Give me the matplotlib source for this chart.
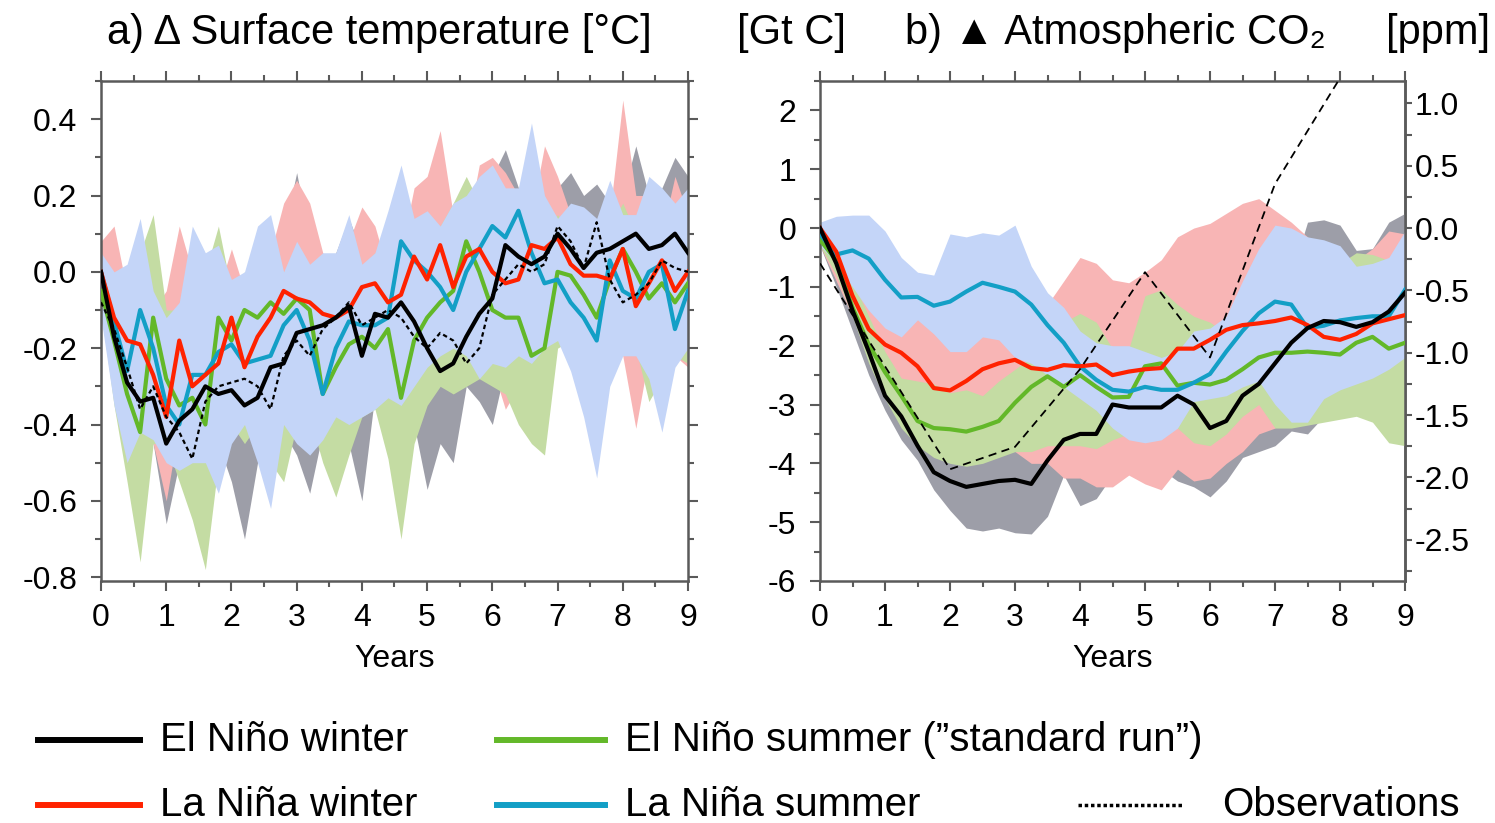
"""
ENSO-start experiments: surface temperature and atmospheric CO2 response
Two panels: a) global surface temperature anomaly, b) atmospheric CO2 anomaly
(left axis Gt C, right axis ppm), ensemble means with min/max ranges.
"""

import numpy as np
import matplotlib.pyplot as plt
from matplotlib.lines import Line2D
from matplotlib.ticker import MultipleLocator, FixedLocator, FormatStrFormatter

plt.rcParams['font.family'] = ['Liberation Sans Narrow', 'Liberation Sans', 'DejaVu Sans']
plt.rcParams['axes.unicode_minus'] = False

# ---------------------------------------------------------------
# Panel a: surface temperature anomaly [deg C], every 0.2 years
# ---------------------------------------------------------------
years_a = np.linspace(0, 9, 46)

temp_en_winter = [0.0, -0.17, -0.29, -0.34, -0.33, -0.45, -0.39, -0.36, -0.30, -0.32,
                  -0.31, -0.35, -0.33, -0.25, -0.24, -0.16, -0.15, -0.14, -0.12, -0.09,
                  -0.22, -0.11, -0.12, -0.08, -0.13, -0.20, -0.26, -0.24, -0.17, -0.11,
                  -0.07, 0.07, 0.04, 0.02, 0.04, 0.10, 0.06, 0.01, 0.05, 0.06,
                  0.08, 0.10, 0.06, 0.07, 0.10, 0.05]
temp_ln_winter = [0.0, -0.12, -0.18, -0.19, -0.27, -0.38, -0.18, -0.30, -0.27, -0.24,
                  -0.12, -0.25, -0.17, -0.12, -0.05, -0.07, -0.08, -0.11, -0.12, -0.10,
                  -0.04, -0.03, -0.08, -0.06, 0.04, -0.02, 0.07, -0.04, 0.04, 0.06,
                  0.0, -0.03, -0.02, 0.07, 0.06, 0.09, 0.02, -0.01, -0.01, -0.02,
                  0.06, -0.09, -0.03, 0.03, -0.05, 0.0]
temp_en_summer = [-0.05, -0.18, -0.32, -0.42, -0.12, -0.28, -0.35, -0.33, -0.40, -0.12,
                  -0.18, -0.10, -0.12, -0.08, -0.11, -0.07, -0.10, -0.32, -0.25, -0.19,
                  -0.17, -0.20, -0.15, -0.33, -0.18, -0.12, -0.08, -0.05, 0.08, 0.0,
                  -0.10, -0.12, -0.12, -0.22, -0.20, 0.0, -0.01, -0.06, -0.12, -0.02,
                  0.06, 0.0, -0.07, -0.03, -0.08, -0.03]
temp_ln_summer = [0.0, -0.13, -0.26, -0.10, -0.20, -0.35, -0.40, -0.27, -0.27, -0.21,
                  -0.19, -0.24, -0.23, -0.22, -0.14, -0.10, -0.18, -0.32, -0.20, -0.13,
                  -0.14, -0.14, -0.12, 0.08, 0.03, 0.0, -0.04, -0.10, 0.0, 0.06,
                  0.12, 0.09, 0.16, 0.05, -0.03, -0.02, -0.08, -0.12, -0.18, 0.03,
                  -0.05, -0.07, 0.0, 0.02, -0.15, -0.05]
temp_obs = [-0.08, -0.15, -0.25, -0.36, -0.30, -0.38, -0.42, -0.49, -0.34, -0.30,
            -0.29, -0.28, -0.30, -0.36, -0.22, -0.18, -0.22, -0.15, -0.12, -0.08,
            -0.14, -0.12, -0.10, -0.12, -0.17, -0.20, -0.16, -0.18, -0.24, -0.20,
            -0.06, -0.02, 0.02, 0.0, 0.02, 0.12, 0.08, 0.01, 0.13, -0.02,
            -0.08, -0.06, -0.03, 0.03, 0.01, 0.0]

# ensemble ranges (min / max)
temp_en_winter_hi = [0.0, -0.05, -0.10, -0.10, -0.15, -0.20, -0.20, -0.15, -0.12, -0.15,
                     -0.10, -0.10, -0.05, 0.0, 0.10, 0.26, 0.08, 0.0, 0.05, 0.14,
                     0.05, 0.05, 0.05, 0.08, 0.10, 0.12, 0.15, 0.12, 0.15, 0.20,
                     0.25, 0.32, 0.22, 0.15, 0.18, 0.22, 0.26, 0.20, 0.23, 0.18,
                     0.20, 0.33, 0.20, 0.22, 0.30, 0.25]
temp_en_winter_lo = [-0.10, -0.30, -0.40, -0.45, -0.45, -0.66, -0.50, -0.45, -0.45, -0.45,
                     -0.55, -0.70, -0.50, -0.45, -0.42, -0.48, -0.58, -0.42, -0.38, -0.45,
                     -0.60, -0.32, -0.35, -0.30, -0.40, -0.57, -0.45, -0.50, -0.30, -0.34,
                     -0.40, -0.25, -0.20, -0.15, -0.10, -0.12, -0.12, -0.10, -0.10, -0.08,
                     -0.08, -0.10, -0.08, -0.10, -0.08, -0.10]
temp_ln_winter_hi = [0.08, 0.12, -0.05, 0.0, -0.10, -0.05, 0.12, 0.0, -0.05, -0.05,
                     0.06, -0.05, 0.0, 0.05, 0.18, 0.24, 0.18, 0.05, 0.0, 0.08,
                     0.17, 0.12, 0.0, 0.05, 0.22, 0.25, 0.37, 0.15, 0.10, 0.28,
                     0.30, 0.26, 0.20, 0.15, 0.33, 0.25, 0.15, 0.12, 0.10, 0.15,
                     0.45, 0.20, 0.20, 0.10, 0.25, 0.15]
temp_ln_winter_lo = [-0.12, -0.30, -0.35, -0.35, -0.45, -0.60, -0.40, -0.45, -0.40, -0.42,
                     -0.44, -0.38, -0.36, -0.32, -0.30, -0.28, -0.30, -0.30, -0.30, -0.28,
                     -0.22, -0.20, -0.22, -0.25, -0.20, -0.22, -0.18, -0.18, -0.15, -0.20,
                     -0.25, -0.36, -0.30, -0.20, -0.18, -0.15, -0.12, -0.15, -0.18, -0.20,
                     -0.22, -0.41, -0.22, -0.18, -0.22, -0.25]
temp_en_summer_hi = [0.0, -0.05, -0.05, 0.05, 0.15, -0.10, -0.10, -0.10, 0.0, 0.12,
                     -0.05, 0.0, 0.0, 0.05, 0.0, 0.02, 0.0, 0.0, 0.0, 0.02,
                     0.0, 0.05, 0.05, 0.10, 0.10, 0.05, 0.12, 0.18, 0.25, 0.18,
                     0.10, 0.12, 0.10, 0.10, 0.10, 0.15, 0.10, 0.10, 0.05, 0.12,
                     0.18, 0.10, 0.12, 0.22, 0.10, 0.12]
temp_en_summer_lo = [-0.10, -0.35, -0.55, -0.76, -0.45, -0.45, -0.55, -0.65, -0.78, -0.50,
                     -0.40, -0.45, -0.40, -0.50, -0.55, -0.40, -0.38, -0.50, -0.59, -0.48,
                     -0.38, -0.36, -0.49, -0.70, -0.45, -0.35, -0.30, -0.32, -0.30, -0.28,
                     -0.30, -0.32, -0.40, -0.45, -0.48, -0.20, -0.18, -0.20, -0.25, -0.19,
                     -0.15, -0.20, -0.34, -0.28, -0.22, -0.24]
temp_ln_summer_hi = [0.05, 0.0, 0.02, 0.14, -0.05, -0.12, -0.08, 0.12, 0.05, 0.07,
                     -0.02, 0.0, 0.12, 0.15, 0.0, 0.08, 0.02, 0.05, 0.05, 0.15,
                     0.02, 0.05, 0.16, 0.28, 0.14, 0.16, 0.12, 0.18, 0.20, 0.25,
                     0.28, 0.22, 0.22, 0.39, 0.20, 0.14, 0.18, 0.17, 0.14, 0.24,
                     0.15, 0.15, 0.25, 0.22, 0.18, 0.22]
temp_ln_summer_lo = [-0.12, -0.35, -0.50, -0.42, -0.44, -0.50, -0.52, -0.50, -0.50, -0.58,
                     -0.45, -0.40, -0.50, -0.62, -0.40, -0.45, -0.48, -0.44, -0.38, -0.40,
                     -0.38, -0.36, -0.33, -0.35, -0.30, -0.25, -0.22, -0.20, -0.22, -0.28,
                     -0.24, -0.25, -0.22, -0.24, -0.20, -0.18, -0.26, -0.38, -0.54, -0.30,
                     -0.22, -0.22, -0.28, -0.42, -0.25, -0.20]

# ---------------------------------------------------------------
# Panel b: atmospheric CO2 anomaly [Gt C], every 0.25 years
# ---------------------------------------------------------------
years_b = np.linspace(0, 9, 37)

co2_en_winter = [0.0, -0.6, -1.4, -2.1, -2.85, -3.2, -3.7, -4.15, -4.3, -4.4,
                 -4.35, -4.3, -4.28, -4.35, -3.95, -3.6, -3.5, -3.5, -3.0, -3.05,
                 -3.05, -3.05, -2.85, -3.0, -3.4, -3.28, -2.85, -2.65, -2.3, -1.95,
                 -1.7, -1.58, -1.6, -1.68, -1.6, -1.42, -1.1]
co2_ln_winter = [0.0, -0.4, -1.15, -1.72, -1.98, -2.12, -2.35, -2.72, -2.76, -2.6,
                 -2.4, -2.3, -2.24, -2.38, -2.41, -2.33, -2.35, -2.32, -2.5, -2.44,
                 -2.4, -2.38, -2.05, -2.05, -1.9, -1.73, -1.65, -1.62, -1.58, -1.52,
                 -1.65, -1.85, -1.9, -1.8, -1.62, -1.55, -1.48]
co2_en_summer = [-0.2, -0.55, -1.35, -1.98, -2.45, -2.85, -3.28, -3.4, -3.42, -3.46,
                 -3.38, -3.28, -2.97, -2.7, -2.52, -2.7, -2.5, -2.7, -2.88, -2.87,
                 -2.35, -2.3, -2.68, -2.63, -2.66, -2.58, -2.4, -2.2, -2.12, -2.12,
                 -2.1, -2.12, -2.15, -1.95, -1.85, -2.05, -1.95]
co2_ln_summer = [-0.1, -0.45, -0.38, -0.52, -0.88, -1.18, -1.17, -1.32, -1.25, -1.08,
                 -0.93, -1.0, -1.08, -1.3, -1.65, -1.95, -2.35, -2.58, -2.75, -2.78,
                 -2.7, -2.75, -2.75, -2.63, -2.48, -2.1, -1.75, -1.45, -1.25, -1.3,
                 -1.7, -1.66, -1.57, -1.53, -1.5, -1.5, -1.05]

# observed (annual)
obs_years_b = [0, 1, 2, 3, 4, 5, 6, 7, 8]
co2_obs = [-0.6, -2.35, -4.1, -3.72, -2.4, -0.75, -2.2, 0.75, 2.55]

co2_en_winter_hi = [0.0, -0.4, -1.0, -1.6, -2.2, -2.6, -3.0, -3.3, -3.5, -3.6,
                    -3.5, -3.5, -3.4, -3.5, -3.2, -3.0, -2.9, -2.8, -2.6, -2.5,
                    -2.5, -2.5, -2.3, -2.4, -2.6, -2.4, -2.0, -1.7, -1.3, -0.8,
                    0.1, 0.14, 0.05, -0.38, -0.35, 0.1, 0.25]
co2_en_winter_lo = [-0.3, -1.0, -1.75, -2.5, -3.1, -3.6, -3.95, -4.45, -4.8, -5.1,
                    -5.15, -5.1, -5.18, -5.2, -4.9, -4.2, -4.72, -4.6, -4.2, -4.0,
                    -4.0, -4.1, -4.3, -4.4, -4.57, -4.3, -3.9, -3.8, -3.7, -3.45,
                    -3.5, -3.2, -3.1, -3.0, -3.0, -3.0, -3.0]
co2_ln_winter_hi = [0.0, -0.3, -0.8, -1.3, -1.6, -1.6, -1.45, -1.7, -2.0, -2.0,
                    -1.75, -1.8, -2.1, -2.0, -1.3, -0.9, -0.5, -0.6, -0.88, -0.93,
                    -0.75, -0.54, -0.15, 0.0, 0.08, 0.25, 0.42, 0.5, 0.3, 0.1,
                    -0.15, -0.35, -0.5, -0.55, -0.35, -0.05, -0.1]
co2_ln_winter_lo = [-0.3, -0.9, -1.5, -2.1, -2.5, -2.9, -3.2, -3.4, -3.5, -3.6,
                    -3.6, -3.7, -3.8, -4.0, -4.0, -4.25, -4.25, -4.4, -4.4, -4.2,
                    -4.35, -4.45, -4.1, -4.3, -4.25, -4.0, -3.8, -3.5, -3.4, -3.1,
                    -3.0, -2.9, -2.8, -2.7, -2.7, -2.6, -2.5]
co2_en_summer_hi = [-0.1, -0.35, -0.9, -1.5, -2.1, -2.55, -2.6, -2.65, -2.8, -2.75,
                    -2.85, -2.6, -2.4, -2.2, -1.8, -1.6, -1.45, -1.6, -2.05, -2.05,
                    -1.15, -1.05, -1.3, -1.5, -1.6, -1.8, -1.5, -1.2, -1.0, -0.9,
                    -0.85, -0.8, -0.6, -0.42, -0.45, -0.55, -0.5]
co2_en_summer_lo = [-0.3, -0.8, -1.5, -2.3, -2.9, -3.4, -3.7, -3.9, -4.0, -4.05,
                    -4.0, -3.9, -3.8, -3.8, -3.7, -3.7, -3.7, -3.75, -3.6, -3.5,
                    -3.4, -3.3, -3.4, -3.65, -3.7, -3.5, -3.2, -3.0, -3.4, -3.4,
                    -3.35, -3.3, -3.25, -3.2, -3.3, -3.65, -3.7]
co2_ln_summer_hi = [0.1, 0.2, 0.22, 0.22, -0.05, -0.5, -0.75, -0.8, -0.1, -0.15,
                    -0.08, -0.12, 0.05, -0.65, -1.1, -1.35, -1.75, -1.95, -2.0, -2.0,
                    -2.1, -2.2, -2.1, -1.75, -1.7, -1.5, -0.9, -0.35, 0.05, 0.0,
                    -0.15, -0.2, -0.3, -0.65, -0.6, -0.5, -0.05]
co2_ln_summer_lo = [-0.3, -0.6, -1.0, -1.4, -1.7, -1.85, -1.56, -1.8, -2.1, -2.1,
                    -1.85, -1.9, -2.2, -2.3, -2.5, -2.7, -2.9, -3.1, -3.4, -3.6,
                    -3.65, -3.6, -3.4, -2.95, -2.9, -2.85, -2.7, -2.6, -3.0, -3.3,
                    -3.3, -2.9, -2.75, -2.65, -2.55, -2.4, -2.2]

GTC_PER_PPM = 2.12
ppm_ticks = [-2.5, -2.0, -1.5, -1.0, -0.5, 0.0, 0.5, 1.0]
ppm_minor = [-2.75, -2.25, -1.75, -1.25, -0.75, -0.25, 0.25, 0.75]

# colours
c_en_w, c_ln_w = "black", "#ff2200"
c_en_s, c_ln_s = "#63b829", "#139fc6"
f_en_w, f_ln_w = "#9d9ea8", "#f8b5b5"
f_en_s, f_ln_s = "#c4dca3", "#c4d5f8"
spine_col = "#5a5a5a"

head_font = ['Liberation Sans', 'DejaVu Sans']

# figure in pixel units
W, H = 1495, 823
fig = plt.figure(figsize=(W / 100, H / 100), dpi=100)


def box(left, top, right, bottom):
    return [left / W, 1 - bottom / H, (right - left) / W, (bottom - top) / H]


ax_a = fig.add_axes(box(101, 81, 688, 581))
ax_b = fig.add_axes(box(820, 81, 1405, 581))


def draw_panel(ax, x, bands, lines):
    # ranges first (grey, pink, green, blue on top), then the means
    for lo, hi, col in bands:
        ax.fill_between(x, lo, hi, color=col, lw=0, zorder=1)
    for y, col in lines:
        ax.plot(x, y, color=col, lw=3.0, zorder=3)


draw_panel(ax_a, years_a,
           [(temp_en_winter_lo, temp_en_winter_hi, f_en_w),
            (temp_ln_winter_lo, temp_ln_winter_hi, f_ln_w),
            (temp_en_summer_lo, temp_en_summer_hi, f_en_s),
            (temp_ln_summer_lo, temp_ln_summer_hi, f_ln_s)],
           [(temp_en_summer, c_en_s), (temp_ln_summer, c_ln_s),
            (temp_ln_winter, c_ln_w), (temp_en_winter, c_en_w)])
ax_a.plot(years_a, temp_obs, color="black", lw=1.6, ls=(0, (2, 1.5)), zorder=4)

draw_panel(ax_b, years_b,
           [(co2_en_winter_lo, co2_en_winter_hi, f_en_w),
            (co2_ln_winter_lo, co2_ln_winter_hi, f_ln_w),
            (co2_en_summer_lo, co2_en_summer_hi, f_en_s),
            (co2_ln_summer_lo, co2_ln_summer_hi, f_ln_s)],
           [(co2_en_summer, c_en_s), (co2_ln_summer, c_ln_s),
            (co2_ln_winter, c_ln_w), (co2_en_winter, c_en_w)])
ax_b.plot(obs_years_b, co2_obs, color="black", lw=1.3, ls=(0, (4.5, 3)), zorder=4)

# axes limits and ticks
ax_a.set_xlim(0, 9)
ax_a.set_ylim(-0.81, 0.5)
ax_a.yaxis.set_major_locator(MultipleLocator(0.2))
ax_a.yaxis.set_minor_locator(MultipleLocator(0.1))
ax_a.yaxis.set_major_formatter(FormatStrFormatter('%.1f'))

ax_b.set_xlim(0, 9)
ax_b.set_ylim(-6, 2.5)
ax_b.yaxis.set_major_locator(MultipleLocator(1))
ax_b.yaxis.set_minor_locator(MultipleLocator(0.5))

for ax in (ax_a, ax_b):
    ax.xaxis.set_major_locator(MultipleLocator(1))
    ax.xaxis.set_minor_locator(MultipleLocator(0.5))
    for sp in ax.spines.values():
        sp.set_color(spine_col)
        sp.set_linewidth(1.8)
    ax.tick_params(which='both', direction='out', top=True, color=spine_col,
                   width=1.5, labelsize=23)
    ax.tick_params(which='major', length=7)
    ax.tick_params(which='minor', length=4)
    ax.tick_params(axis='x', pad=9)
    ax.tick_params(axis='y', pad=10)
    ax.set_xlabel("Years", fontsize=23, labelpad=8)

ax_a.tick_params(which='both', right=True)

# ppm scale on the right of panel b
sec = ax_b.secondary_yaxis('right', functions=(lambda g: g / GTC_PER_PPM,
                                               lambda p: p * GTC_PER_PPM))
sec.yaxis.set_major_locator(FixedLocator(ppm_ticks))
sec.yaxis.set_minor_locator(FixedLocator(ppm_minor))
sec.yaxis.set_major_formatter(FormatStrFormatter('%.1f'))
sec.tick_params(which='both', direction='out', color=spine_col, width=1.5,
                length=5, labelsize=23, pad=2)
sec.spines['right'].set_color(spine_col)
sec.spines['right'].set_linewidth(1.8)

# headings
fig.text(107 / W, 1 - 33 / H, "a) \u0394 Surface temperature [\u00b0C]", family=head_font,
         fontsize=30, ha='left', va='center')
fig.text(737 / W, 1 - 33 / H, "[Gt C]", family=head_font, fontsize=30, ha='left', va='center')
fig.text(905 / W, 1 - 33 / H, "b) \u25b2 Atmospheric CO\u2082", family=head_font,
         fontsize=30, ha='left', va='center')
fig.text(1490 / W, 1 - 33 / H, "[ppm]", family=head_font, fontsize=30, ha='right', va='center')

# legend below the panels
legend_rows = [
    (38, 140, 740, c_en_w, "El Ni\u00f1o winter"),
    (497, 605, 740, c_en_s, "El Ni\u00f1o summer (\u201dstandard run\u201d)"),
    (38, 140, 805, c_ln_w, "La Ni\u00f1a winter"),
    (497, 605, 805, c_ln_s, "La Ni\u00f1a summer"),
]
for x0, x1, yy, col, label in legend_rows:
    fig.add_artist(Line2D([x0 / W, x1 / W], [1 - yy / H, 1 - yy / H],
                          color=col, lw=4.3, transform=fig.transFigure))
    fig.text((x1 + 20) / W, 1 - yy / H, label, family=head_font, fontsize=29,
             ha='left', va='center')

fig.add_artist(Line2D([1078 / W, 1183 / W], [1 - 805 / H, 1 - 805 / H], color="black",
                      lw=2.5, ls=(0, (1, 0.8)), transform=fig.transFigure))
fig.text(1222 / W, 1 - 805 / H, "Observations", family=head_font, fontsize=29,
         ha='left', va='center')

fig.savefig("out.png", dpi=100)
